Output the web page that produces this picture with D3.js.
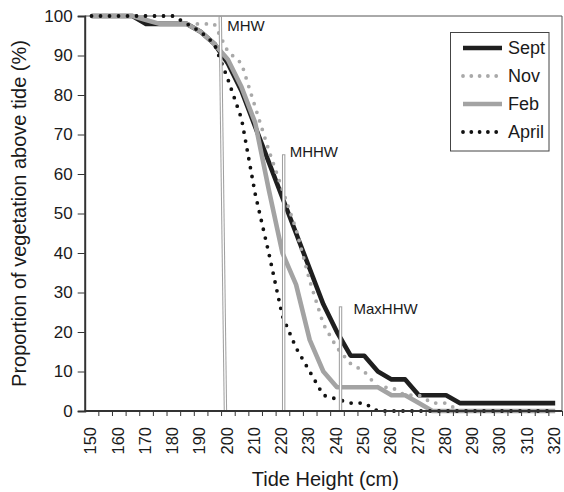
<!DOCTYPE html>
<html><head><meta charset="utf-8">
<script src="https://cdn.jsdelivr.net/npm/d3@7"></script>
<style>
body{margin:0;background:#fff}
svg{display:block}
text{font-family:"Liberation Sans",Arial,Helvetica,sans-serif;fill:#1a1a1a}
</style>
</head><body>
<svg id="chart" width="564" height="492"></svg>
<script>
// ---- data ----
const tideHeights = [150,155,160,165,170,175,180,185,190,195,200,205,210,215,220,225,230,235,240,245,250,255,260,265,270,275,280,285,290,295,300,305,310,315,320];
const sept  = [100,100,100,100,98,98,98,98,96,93,88,81,72,63,54,45,36,27,20,14,14,10,8,8,4,4,4,2,2,2,2,2,2,2,2];
const nov   = [100,100,100,100,100,100,100,98,98,98,91,88,77,66,56,46,33,22,16,12,10,6,6,4,4,2,2,0,0,0,0,0,0,0,0];
const feb   = [100,100,100,100,99,98,98,98,96,93,89,82,73,56,40,32,18,10,6,6,6,6,4,4,2,0,0,0,0,0,0,0,0,0,0];
const april = [100,100,100,100,100,100,100,98,96,93,84,74,55,40,24,16,10,4,3,2,2,0,0,0,0,0,0,0,0,0,0,0,0,0,0];
const seriesNames = ["Sept","Nov","Feb","April"];
const xTickLabels = [150,160,170,180,190,200,210,220,230,240,250,260,270,280,290,300,310,320];
const yTickValues = [0,10,20,30,40,50,60,70,80,90,100];
const refNames = ["MHW","MHHW","MaxHHW"];
const refHeightTop = [197.2,220.45,241.3];
const refHeightBottom = [199.1,220.45,241.3];
const refTopValue = [100,65,26.5];

// ---- layout ----
const svg = d3.select("#chart");
const L = 84.7, R = 562, T = 16, B = 411;
const x = d3.scaleLinear().domain([147.5, 322.5]).range([L, R]);
const y = d3.scaleLinear().domain([0, 100]).range([B, T]);

const styles = {
  Sept:  {stroke:"#1f1f1f", width:4.6, dash:null},
  Nov:   {stroke:"#a9a9a9", width:3.8, dash:"0,9"},
  Feb:   {stroke:"#a3a3a3", width:4.6, dash:null},
  April: {stroke:"#111111", width:3.8, dash:"0,9"}
};
const dataBy = {Sept:sept, Nov:nov, Feb:feb, April:april};

// frame (top & right)
svg.append("line").attr("x1",L).attr("x2",R).attr("y1",T).attr("y2",T).attr("stroke","#555").attr("stroke-width",1);
svg.append("line").attr("x1",R).attr("x2",R).attr("y1",T).attr("y2",B).attr("stroke","#555").attr("stroke-width",1);

// series
const line = d3.line().x((d,i)=>x(tideHeights[i])).y(d=>y(d));
seriesNames.forEach(n=>{
  const s = styles[n];
  const p = svg.append("path").datum(dataBy[n]).attr("d", line)
    .attr("fill","none").attr("stroke", s.stroke).attr("stroke-width", s.width)
    .attr("stroke-linejoin","round");
  if (s.dash) p.attr("stroke-dasharray", s.dash).attr("stroke-linecap","round");
});

// reference lines (double lines)
refNames.forEach((n,i)=>{
  const x1 = x(refHeightTop[i]), x2 = x(refHeightBottom[i]), y1 = y(refTopValue[i]);
  svg.append("line").attr("x1",x1).attr("x2",x2).attr("y1",y1).attr("y2",B)
    .attr("stroke","#a0a0a0").attr("stroke-width",3.4);
  svg.append("line").attr("x1",x1).attr("x2",x2).attr("y1",y1+1).attr("y2",B)
    .attr("stroke","#ffffff").attr("stroke-width",1.3);
});
const labelOffsets = [[7,15],[6,3],[13,8]];
refNames.forEach((n,i)=>{
  svg.append("text").attr("x", x(refHeightTop[i]) + labelOffsets[i][0])
    .attr("y", y(refTopValue[i]) + labelOffsets[i][1])
    .attr("font-size", 15).text(n);
});

// y axis
const yAxis = d3.axisLeft(y).tickValues(yTickValues).tickSize(7).tickPadding(5);
const gy = svg.append("g").attr("transform",`translate(${L},0)`).call(yAxis);
gy.select(".domain").attr("stroke","#333").attr("stroke-width",2);
gy.selectAll(".tick line").attr("stroke","#333").attr("stroke-width",1);
gy.selectAll("text").attr("font-size",17).attr("fill","#1a1a1a");

// x axis: ticks at category boundaries
const bounds = tideHeights.map(v=>v+2.5);
const xAxis = d3.axisBottom(x).tickValues(bounds).tickSize(5).tickFormat("");
const gx = svg.append("g").attr("transform",`translate(0,${B})`).call(xAxis);
gx.select(".domain").attr("stroke","#333").attr("stroke-width",2).attr("d",`M${L},0H${R}`);
gx.selectAll(".tick line").attr("stroke","#333").attr("stroke-width",1);
svg.append("g").selectAll("text").data(xTickLabels).join("text")
  .attr("transform", d=>`translate(${x(d)-0.5},427) rotate(-90)`)
  .attr("text-anchor","end").attr("dy","0.32em").attr("font-size",16.5).text(d=>d);

// axis titles
svg.append("text").attr("transform",`translate(26,${(T+B)/2}) rotate(-90)`)
  .attr("text-anchor","middle").attr("font-size",20).text("Proportion of vegetation above tide (%)");
svg.append("text").attr("x",(L+R)/2+2).attr("y",486).attr("text-anchor","middle")
  .attr("font-size",20).text("Tide Height (cm)");

// legend
const lg = svg.append("g");
lg.append("rect").attr("x",450.5).attr("y",32.5).attr("width",98.5).attr("height",118.5)
  .attr("fill","#fff").attr("stroke","#444").attr("stroke-width",1);
const rowY = d3.scaleLinear().domain([0,3]).range([48,132]);
seriesNames.forEach((n,i)=>{
  const s = styles[n], yy = rowY(i);
  const l = lg.append("line").attr("x1",463).attr("x2",502).attr("y1",yy).attr("y2",yy)
    .attr("stroke",s.stroke).attr("stroke-width",s.width);
  if (s.dash) l.attr("stroke-dasharray","0,8.3").attr("stroke-linecap","round");
  lg.append("text").attr("x",508).attr("y",yy).attr("dy","0.35em").attr("font-size",18).text(n);
});
</script>
</body></html>
